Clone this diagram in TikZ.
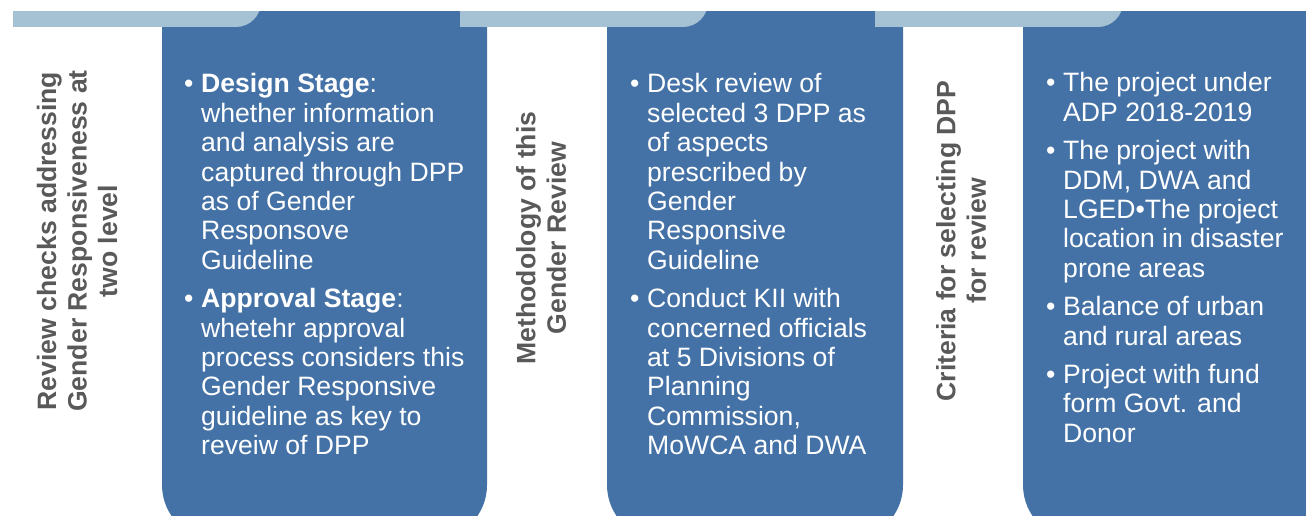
\documentclass[tikz,border=0pt]{standalone}
\usepackage{fontspec}
\setmainfont{Liberation Sans}
\usepackage{tikz}
\usetikzlibrary{math}
\definecolor{boxblue}{HTML}{4472A6}
\definecolor{tabblue}{HTML}{A5C2D5}
\definecolor{headgray}{HTML}{595959}
\newcommand{\bul}{\makebox[17pt][l]{\textbullet}}

\begin{document}
\begin{tikzpicture}[x=1pt,y=1pt,
    head/.style={rotate=90,align=center,text=headgray,inner sep=0pt,
      font=\fontsize{26.6}{30.5}\selectfont\bfseries},
    body/.style={anchor=base west,inner sep=0pt,text=white,
      font=\fontsize{26.6}{29.4}\selectfont}]
  \useasboundingbox(0,0)rectangle(1306,515);
  \begin{scope}\clip(0,0)rectangle(1306,503);
  \tikzmath{\r=55; \t=25; \w=248;}
  % dark columns, open at the top
  \foreach \xa/\xb in {162/487,607/903,1023/1360}
    \fill[boxblue,rounded corners=\r pt](\xa,-25)rectangle(\xb,560);
  % light tabs over the top edge
  \foreach \xa in {13,460,875}
    \fill[tabblue](\xa,540)--(\xa,488)--(\xa+\w-\t,488)
      arc[start angle=-90,end angle=0,radius=\t pt]--(\xa+\w,540)--cycle;
  \end{scope}

  \node[head](t1) at (77,274) {Review checks addressing\\Gender Responsiveness at\\two level};
  \node[head](t2) at (541,277) {Methodology of this\\Gender Review};
  \node[head](t3) at (961,274) {Criteria for selecting DPP\\for review};

  \node[body](b1) at (184,422) {\begin{tabular}[t]{@{}l@{}l@{}}
    \bul & \textbf{Design Stage}:\\
         & whether information\\
         & and analysis are\\
         & captured through DPP\\
         & as of Gender\\
         & Responsove\\
         & Guideline\\[9pt]
    \bul & \textbf{Approval Stage}:\\
         & whetehr approval\\
         & process considers this\\
         & Gender Responsive\\
         & guideline as key to\\
         & reveiw of DPP
  \end{tabular}};
  \node[body](b2) at (630,422) {\begin{tabular}[t]{@{}l@{}l@{}}
    \bul & Desk review of\\
         & selected 3 DPP as\\
         & of aspects\\
         & prescribed by\\
         & Gender\\
         & Responsive\\
         & Guideline\\[9pt]
    \bul & Conduct KII with\\
         & concerned officials\\
         & at 5 Divisions of\\
         & Planning\\
         & Commission,\\
         & MoWCA and DWA
  \end{tabular}};
  \node[body](b3) at (1046,423) {\begin{tabular}[t]{@{}l@{}l@{}}
    \bul & The project under\\
         & ADP 2018-2019\\[9pt]
    \bul & The project with\\
         & DDM, DWA and\\
         & LGED\textbullet The project\\
         & location in disaster\\
         & prone areas\\[9pt]
    \bul & Balance of urban\\
         & and rural areas\\[9pt]
    \bul & Project with fund\\
         & form Govt. and\\
         & Donor
  \end{tabular}};
\end{tikzpicture}
\end{document}
